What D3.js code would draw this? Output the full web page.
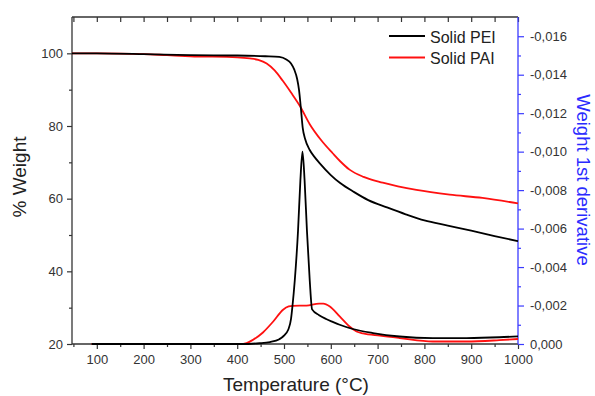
<!DOCTYPE html>
<html><head><meta charset="utf-8">
<script src="https://cdn.jsdelivr.net/npm/d3@7"></script>
<style>
body{margin:0;background:#fff}
svg{display:block;background:#fff}
text{font-family:"Liberation Sans",Arial,Helvetica,sans-serif}
</style>
</head><body>
<svg id="chart" width="595" height="396"></svg>
<script>
// ---------- data ----------
const peiTgaTemp   = [47,100,200,300,400,460,490,505,515,522,528,532,536,540,545,555,565,576,600,620,650,680,720,760,800,850,900,950,1000];
const peiTgaWeight = [100,100,99.8,99.5,99.4,99.2,99.0,98.3,97.2,95.5,93,90,85,79.5,76.5,73.4,71.5,69.8,66.5,64.3,61.8,59.6,57.6,55.7,54.0,52.6,51.2,49.7,48.3];

const paiTgaTemp   = [47,100,200,250,300,400,427,445,463,480,497,515,534,555,580,604,620,640,670,711,783,854,924,1000];
const paiTgaWeight = [100,100,99.8,99.5,99.2,98.9,98.6,98.2,97.2,95.3,92.5,89.2,85.5,80.5,76.0,72.5,70.3,68.0,66.0,64.4,62.4,61.1,60.2,58.7];

const peiDtgTemp  = [89,200,300,406,448,470,490,498,509,515,518,523,530,535,539.5,544,549,555,560,575,590,604,619,647,690,747,818,890,960,1000];
const peiDtgValue = [0,0,0,0,-0.00004,-0.0001,-0.00025,-0.00039,-0.00074,-0.0013,-0.00195,-0.0033,-0.0059,-0.0085,-0.0100,-0.0085,-0.0059,-0.0033,-0.0018,-0.0015,-0.0013,-0.00115,-0.001,-0.00078,-0.00057,-0.00039,-0.00031,-0.00031,-0.00035,-0.0004];

const paiDtgTemp  = [89,200,300,406,420,434,455,477,498,510,519,548,575,584,598,619,640,655,669,705,747,818,890,960,1000];
const paiDtgValue = [0,0,0,0,-0.00005,-0.00022,-0.0006,-0.00117,-0.00178,-0.00195,-0.00198,-0.002,-0.0021,-0.0021,-0.00195,-0.00143,-0.00091,-0.00065,-0.00055,-0.00043,-0.00031,-0.00013,-0.00013,-0.0002,-0.00026];

const xMajorTicks = [100,200,300,400,500,600,700,800,900,1000];
const xMinorTicks = [50,150,250,350,450,550,650,750,850,950];
const leftMajorTicks = [20,40,60,80,100];
const leftMinorTicks = [30,50,70,90];
const rightMajorTicks = [0,-0.002,-0.004,-0.006,-0.008,-0.010,-0.012,-0.014,-0.016];
const rightMinorTicks = [-0.001,-0.003,-0.005,-0.007,-0.009,-0.011,-0.013,-0.015];

const seriesNames = ["Solid PEI","Solid PAI"];
const seriesColors = ["#000000","#ff1010"];

// ---------- layout ----------
const L = 72, R = 518, T = 17, B = 344;
const axisColor = "#333", blue = "#3b3bff";
const svg = d3.select("#chart");

const x  = d3.scaleLinear().domain([47,1000]).range([L,R]);
const yL = d3.scaleLinear().domain([20,110]).range([B,T]);
const yR = d3.scaleLinear().domain([0,-0.017]).range([B,T]);

function styleAxis(g,color){
  g.selectAll("path.domain").attr("stroke",color).attr("stroke-width",1.3);
  g.selectAll(".tick line").attr("stroke",color).attr("stroke-width",1.2);
  g.selectAll(".tick text").attr("fill","#333").attr("font-size",13)
   .attr("font-family",'"Liberation Sans",Arial,sans-serif');
}

// bottom axis
const gb = svg.append("g").attr("transform",`translate(0,${B})`)
  .call(d3.axisBottom(x).tickValues(xMajorTicks).tickFormat(d3.format("d")).tickSize(5).tickSizeOuter(0).tickPadding(6));
styleAxis(gb,axisColor);
gb.select("path.domain").attr("d",`M${L},0H${R}`);
const gbm = svg.append("g").attr("transform",`translate(0,${B})`)
  .call(d3.axisBottom(x).tickValues(xMinorTicks).tickSize(3).tickFormat(""));
gbm.select("path.domain").remove(); styleAxis(gbm,axisColor);

// top axis (inward ticks, no labels)
const gt = svg.append("g").attr("transform",`translate(0,${T})`)
  .call(d3.axisTop(x).tickValues(xMajorTicks.concat(xMinorTicks)).tickSize(-5).tickSizeOuter(0).tickFormat(""));
styleAxis(gt,axisColor);
gt.select("path.domain").attr("d",`M${L},0H${R}`);

// left axis
const gl = svg.append("g").attr("transform",`translate(${L},0)`)
  .call(d3.axisLeft(yL).tickValues(leftMajorTicks).tickSize(5).tickSizeOuter(0).tickPadding(4));
styleAxis(gl,axisColor);
gl.select("path.domain").attr("d",`M0,${T}V${B}`);
const glm = svg.append("g").attr("transform",`translate(${L},0)`)
  .call(d3.axisLeft(yL).tickValues(leftMinorTicks).tickSize(3).tickFormat(""));
glm.select("path.domain").remove(); styleAxis(glm,axisColor);

// right axis (blue)
const fmtR = d => (d < 0 ? "-" : "") + Math.abs(d).toFixed(3).replace(".", ",");
const gr = svg.append("g").attr("transform",`translate(${R},0)`)
  .call(d3.axisRight(yR).tickValues(rightMajorTicks).tickSize(6).tickSizeOuter(0).tickPadding(6).tickFormat(fmtR));
styleAxis(gr,blue);
gr.select("path.domain").attr("d",`M0,${T}V${B}`);
const grm = svg.append("g").attr("transform",`translate(${R},0)`)
  .call(d3.axisRight(yR).tickValues(rightMinorTicks).tickSize(3).tickFormat(""));
grm.select("path.domain").remove(); styleAxis(grm,blue);

// ---------- curves ----------
const lineL = d3.line().x(d=>x(d[0])).y(d=>yL(d[1])).curve(d3.curveMonotoneX);
const lineR = d3.line().x(d=>x(d[0])).y(d=>yR(d[1])).curve(d3.curveMonotoneX);
const zip = (a,b) => a.map((v,i)=>[v,b[i]]);

const plot = svg.append("g");
plot.append("path").attr("d",lineR(zip(paiDtgTemp,paiDtgValue)))
  .attr("fill","none").attr("stroke",seriesColors[1]).attr("stroke-width",1.8);
plot.append("path").attr("d",lineR(zip(peiDtgTemp,peiDtgValue)))
  .attr("fill","none").attr("stroke",seriesColors[0]).attr("stroke-width",1.8);
plot.append("path").attr("d",lineL(zip(paiTgaTemp,paiTgaWeight)))
  .attr("fill","none").attr("stroke",seriesColors[1]).attr("stroke-width",1.8);
plot.append("path").attr("d",lineL(zip(peiTgaTemp,peiTgaWeight)))
  .attr("fill","none").attr("stroke",seriesColors[0]).attr("stroke-width",1.8);

// ---------- titles ----------
svg.append("text").attr("x",296).attr("y",391).attr("text-anchor","middle")
  .attr("font-size",19).attr("fill","#222").text("Temperature (°C)");
svg.append("text").attr("transform","translate(26,177) rotate(-90)").attr("text-anchor","middle")
  .attr("font-size",19).attr("fill","#222").text("% Weight");
svg.append("text").attr("transform","translate(577,180) rotate(90)").attr("text-anchor","middle")
  .attr("font-size",18.5).attr("fill","#2a2aff").text("Weight 1st derivative");

// ---------- legend ----------
const legY = [36, 57.5];
seriesNames.forEach((n,i)=>{
  svg.append("line").attr("x1",389).attr("x2",425).attr("y1",legY[i]).attr("y2",legY[i])
    .attr("stroke",seriesColors[i]).attr("stroke-width",1.8);
  svg.append("text").attr("x",430).attr("y",legY[i]+6.5).attr("font-size",16)
    .attr("fill","#222").text(n);
});
</script>
</body></html>
